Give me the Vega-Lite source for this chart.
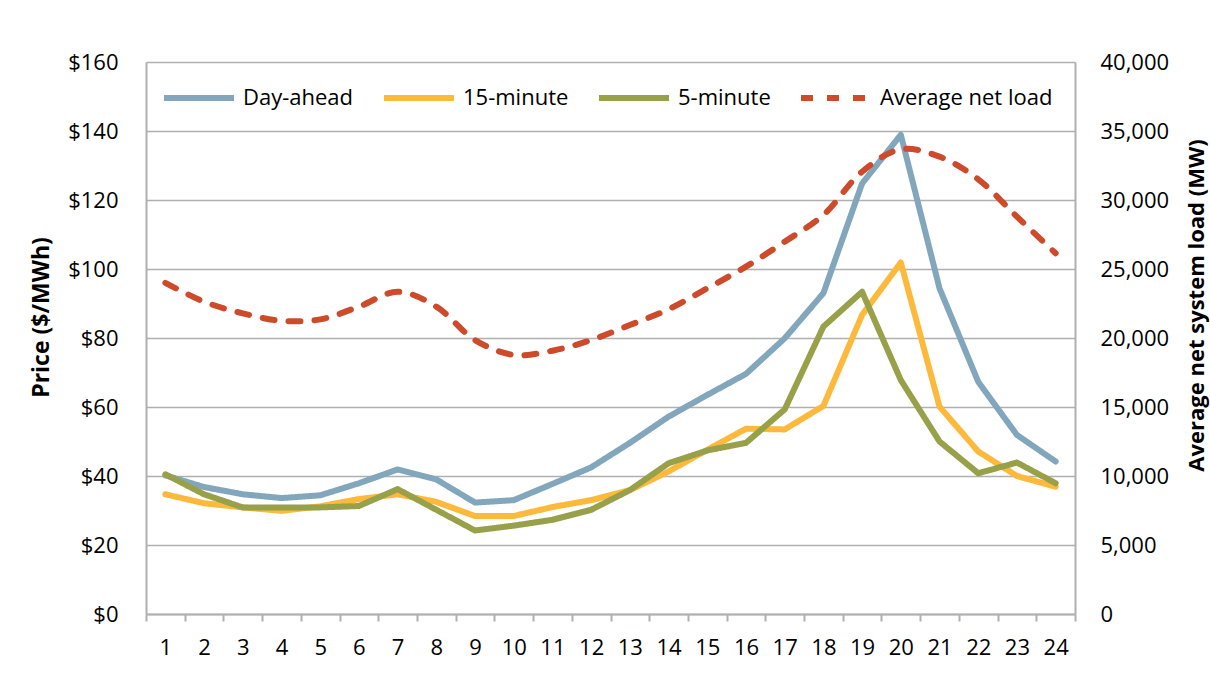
{
  "$schema": "https://vega.github.io/schema/vega-lite/v6.json",
  "width": 929,
  "height": 552,
  "autosize": {"type": "none"},
  "padding": {"left": 146, "top": 62, "right": 135, "bottom": 63},
  "background": "white",
  "config": {
    "view": {"stroke": null},
    "font": "Open Sans",
    "axis": {"labelFont": "Open Sans", "titleFont": "Open Sans", "labelColor": "#000000", "titleColor": "#000000", "labelFontSize": 22, "titleFontSize": 22, "titleFontWeight": "bold", "domainColor": "#b0b0b0", "domainWidth": 2, "tickColor": "#b0b0b0", "tickWidth": 2, "gridColor": "#b0b0b0", "gridWidth": 1.6},
    "legend": {"labelFont": "Open Sans", "labelFontSize": 22, "labelColor": "#000000", "labelLimit": 400}
  },
  "layer": [
    {
      "data": {"values": [
        {"hour": 1, "series": "Day-ahead", "value": 40.2}, {"hour": 2, "series": "Day-ahead", "value": 36.8}, {"hour": 3, "series": "Day-ahead", "value": 34.7}, {"hour": 4, "series": "Day-ahead", "value": 33.6}, {"hour": 5, "series": "Day-ahead", "value": 34.4}, {"hour": 6, "series": "Day-ahead", "value": 37.9}, {"hour": 7, "series": "Day-ahead", "value": 41.9}, {"hour": 8, "series": "Day-ahead", "value": 39.0}, {"hour": 9, "series": "Day-ahead", "value": 32.3}, {"hour": 10, "series": "Day-ahead", "value": 33.0}, {"hour": 11, "series": "Day-ahead", "value": 37.7}, {"hour": 12, "series": "Day-ahead", "value": 42.5}, {"hour": 13, "series": "Day-ahead", "value": 49.6}, {"hour": 14, "series": "Day-ahead", "value": 57.2}, {"hour": 15, "series": "Day-ahead", "value": 63.5}, {"hour": 16, "series": "Day-ahead", "value": 69.6}, {"hour": 17, "series": "Day-ahead", "value": 79.9}, {"hour": 18, "series": "Day-ahead", "value": 93.0}, {"hour": 19, "series": "Day-ahead", "value": 124.8}, {"hour": 20, "series": "Day-ahead", "value": 138.9}, {"hour": 21, "series": "Day-ahead", "value": 94.4}, {"hour": 22, "series": "Day-ahead", "value": 67.3}, {"hour": 23, "series": "Day-ahead", "value": 51.9}, {"hour": 24, "series": "Day-ahead", "value": 44.2},
        {"hour": 1, "series": "15-minute", "value": 34.7}, {"hour": 2, "series": "15-minute", "value": 32.1}, {"hour": 3, "series": "15-minute", "value": 30.9}, {"hour": 4, "series": "15-minute", "value": 29.9}, {"hour": 5, "series": "15-minute", "value": 31.2}, {"hour": 6, "series": "15-minute", "value": 33.3}, {"hour": 7, "series": "15-minute", "value": 34.7}, {"hour": 8, "series": "15-minute", "value": 32.5}, {"hour": 9, "series": "15-minute", "value": 28.4}, {"hour": 10, "series": "15-minute", "value": 28.4}, {"hour": 11, "series": "15-minute", "value": 31.0}, {"hour": 12, "series": "15-minute", "value": 33.0}, {"hour": 13, "series": "15-minute", "value": 35.9}, {"hour": 14, "series": "15-minute", "value": 41.3}, {"hour": 15, "series": "15-minute", "value": 47.6}, {"hour": 16, "series": "15-minute", "value": 53.7}, {"hour": 17, "series": "15-minute", "value": 53.5}, {"hour": 18, "series": "15-minute", "value": 60.3}, {"hour": 19, "series": "15-minute", "value": 86.7}, {"hour": 20, "series": "15-minute", "value": 101.9}, {"hour": 21, "series": "15-minute", "value": 60.1}, {"hour": 22, "series": "15-minute", "value": 47.1}, {"hour": 23, "series": "15-minute", "value": 40.0}, {"hour": 24, "series": "15-minute", "value": 36.9},
        {"hour": 1, "series": "5-minute", "value": 40.5}, {"hour": 2, "series": "5-minute", "value": 34.7}, {"hour": 3, "series": "5-minute", "value": 30.9}, {"hour": 4, "series": "5-minute", "value": 30.9}, {"hour": 5, "series": "5-minute", "value": 30.9}, {"hour": 6, "series": "5-minute", "value": 31.3}, {"hour": 7, "series": "5-minute", "value": 36.2}, {"hour": 8, "series": "5-minute", "value": 30.2}, {"hour": 9, "series": "5-minute", "value": 24.2}, {"hour": 10, "series": "5-minute", "value": 25.6}, {"hour": 11, "series": "5-minute", "value": 27.3}, {"hour": 12, "series": "5-minute", "value": 30.2}, {"hour": 13, "series": "5-minute", "value": 35.9}, {"hour": 14, "series": "5-minute", "value": 43.7}, {"hour": 15, "series": "5-minute", "value": 47.4}, {"hour": 16, "series": "5-minute", "value": 49.6}, {"hour": 17, "series": "5-minute", "value": 59.3}, {"hour": 18, "series": "5-minute", "value": 83.3}, {"hour": 19, "series": "5-minute", "value": 93.4}, {"hour": 20, "series": "5-minute", "value": 67.8}, {"hour": 21, "series": "5-minute", "value": 50.0}, {"hour": 22, "series": "5-minute", "value": 40.8}, {"hour": 23, "series": "5-minute", "value": 43.9}, {"hour": 24, "series": "5-minute", "value": 37.9}
      ]},
      "mark": {"type": "line", "strokeWidth": 6, "strokeCap": "round", "strokeJoin": "round", "interpolate": "linear"},
      "encoding": {
        "x": {"field": "hour", "type": "ordinal", "bandPosition": 0.5,
          "scale": {"type": "band", "domain": [1,2,3,4,5,6,7,8,9,10,11,12,13,14,15,16,17,18,19,20,21,22,23,24], "paddingInner": 0, "paddingOuter": 0},
          "axis": {"title": null, "labelAngle": 0, "tickBand": "extent", "tickSize": 7, "labelPadding": 16, "grid": false}},
        "y": {"field": "value", "type": "quantitative",
          "scale": {"domain": [0, 160], "nice": false, "zero": true},
          "axis": {"values": [0,20,40,60,80,100,120,140,160], "labelExpr": "'$' + datum.value", "grid": true, "ticks": false, "labelPadding": 28, "title": "Price ($/MWh)", "titleFontSize": 23, "titleAngle": 270, "titleX": -105, "titleY": 255, "titleAlign": "center", "titleBaseline": "middle"}},
        "color": {"field": "series", "type": "nominal",
          "scale": {"domain": ["Day-ahead", "15-minute", "5-minute", "Average net load"], "range": ["#82a7bc", "#fdb93b", "#98a049", "#cd4b2b"]},
          "legend": {"title": null, "orient": "none", "legendX": 15, "legendY": -2, "direction": "horizontal", "symbolType": "stroke", "symbolSize": 4900, "symbolStrokeWidth": 6, "columnPadding": 18, "labelOffset": 6, "labelLimit": 400}},
        "strokeDash": {"field": "series", "type": "nominal",
          "scale": {"domain": ["Day-ahead", "15-minute", "5-minute", "Average net load"], "range": [[1, 0], [1, 0], [1, 0], [12, 14]]},
          "legend": {"title": null, "orient": "none", "legendX": 15, "legendY": -2, "direction": "horizontal", "symbolType": "stroke", "symbolSize": 4900, "symbolStrokeWidth": 6, "columnPadding": 18, "labelOffset": 6, "labelLimit": 400}}
      }
    },
    {
      "data": {"values": [
        {"hour": 1, "series": "Average net load", "load": 24000}, {"hour": 2, "series": "Average net load", "load": 22630}, {"hour": 3, "series": "Average net load", "load": 21790}, {"hour": 4, "series": "Average net load", "load": 21250}, {"hour": 5, "series": "Average net load", "load": 21350}, {"hour": 6, "series": "Average net load", "load": 22270}, {"hour": 7, "series": "Average net load", "load": 23350}, {"hour": 8, "series": "Average net load", "load": 22270}, {"hour": 9, "series": "Average net load", "load": 19850}, {"hour": 10, "series": "Average net load", "load": 18770}, {"hour": 11, "series": "Average net load", "load": 19080}, {"hour": 12, "series": "Average net load", "load": 19850}, {"hour": 13, "series": "Average net load", "load": 20940}, {"hour": 14, "series": "Average net load", "load": 22080}, {"hour": 15, "series": "Average net load", "load": 23600}, {"hour": 16, "series": "Average net load", "load": 25170}, {"hour": 17, "series": "Average net load", "load": 26980}, {"hour": 18, "series": "Average net load", "load": 28910}, {"hour": 19, "series": "Average net load", "load": 32050}, {"hour": 20, "series": "Average net load", "load": 33670}, {"hour": 21, "series": "Average net load", "load": 33140}, {"hour": 22, "series": "Average net load", "load": 31500}, {"hour": 23, "series": "Average net load", "load": 28790}, {"hour": 24, "series": "Average net load", "load": 26140}
      ]},
      "mark": {"type": "line", "strokeWidth": 6, "strokeCap": "round", "strokeJoin": "round", "interpolate": "catmull-rom"},
      "encoding": {
        "x": {"field": "hour", "type": "ordinal", "bandPosition": 0.5},
        "y": {"field": "load", "type": "quantitative",
          "scale": {"domain": [0, 40000], "nice": false},
          "axis": {"orient": "right", "values": [0,5000,10000,15000,20000,25000,30000,35000,40000], "format": ",.0f", "grid": false, "ticks": false, "labelPadding": 25, "title": "Average net system load (MW)", "titleAngle": 270, "titleX": 121, "titleY": 243, "titleAlign": "center", "titleBaseline": "middle"}},
        "color": {"field": "series", "type": "nominal"},
        "strokeDash": {"field": "series", "type": "nominal"}
      }
    }
  ],
  "resolve": {"scale": {"y": "independent"}}
}
